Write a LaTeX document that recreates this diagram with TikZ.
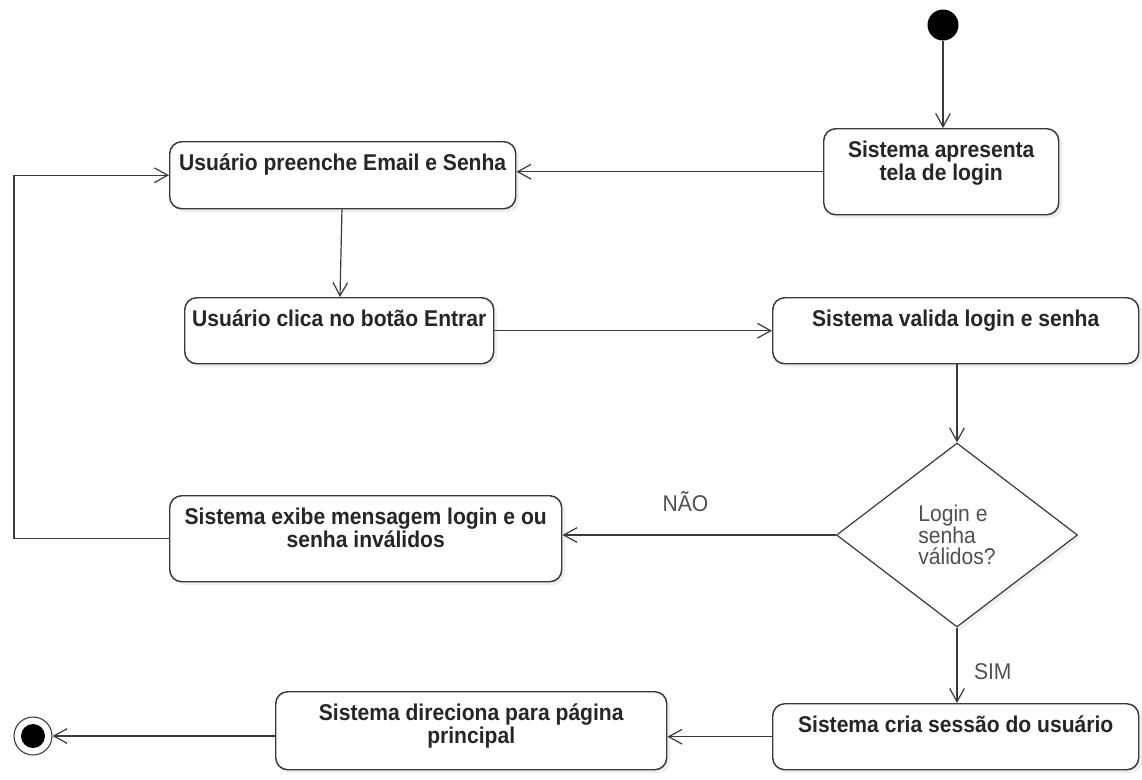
\documentclass[tikz,border=0pt]{standalone}
\usepackage{fontspec}
\setmainfont{Liberation Sans}[FakeStretch=0.925]
\usetikzlibrary{arrows.meta,positioning,shapes.geometric,shadows,calc}

\definecolor{linha}{HTML}{3A3A3A}
\definecolor{texto}{HTML}{262626}
\definecolor{cinza}{HTML}{505050}

% text of an action box: fixed size, lines from the top
\newcommand{\caixa}[3]{\parbox[c][#2][t]{#1}{\centering\rule{0pt}{21.75pt}#3}}

\begin{document}
\begin{tikzpicture}[x=0.75pt, y=-0.75pt,
    acao/.style={draw=linha, line width=1.1pt, rounded corners=9pt, fill=white,
        inner sep=0pt, anchor=north west, text=texto,
        font=\fontsize{17.1}{15.75}\selectfont\bfseries,
        drop shadow={shadow xshift=2.5pt, shadow yshift=-2.5pt, opacity=0.12}},
    decisao/.style={diamond, draw=linha, line width=0.9pt, fill=white,
        minimum width=180.75pt, minimum height=138pt, align=left, text=cinza,
        font=\fontsize{17.1}{15.75}\selectfont,
        drop shadow={shadow xshift=2.5pt, shadow yshift=-2.5pt, opacity=0.12}},
    inicio/.style={circle, fill=black, minimum size=23.25pt, inner sep=0pt},
    fim/.style={circle, draw=linha, line width=0.8pt, fill=white, minimum size=28.5pt,
        inner sep=0pt, path picture={\fill[black] (path picture bounding box.center) circle (9pt);}},
    seta/.style={draw=linha, line width=0.9pt,
        -{Straight Barb[length=10pt, width=11pt, line width=0.9pt]}},
    rotulo/.style={text=cinza, font=\fontsize{17.1}{15.75}\selectfont}]

    % page
    \useasboundingbox[fill=white] (0,0) rectangle (1142,779);

    % start and end
    \node[inicio] (inicio) at (943,25) {};
    \node[fim] (fim) at (33,736) {};

    % actions
    \node[acao] (apresenta) at (823,128) {\caixa{176.25pt}{64.5pt}{Sistema apresenta\\tela de login}};
    \node[acao] (preenche) at (169,141) {\caixa{259.5pt}{50.25pt}{Usuário preenche Email e Senha}};
    \node[acao] (clica) at (184,297) {\caixa{231.75pt}{49.5pt}{Usuário clica no botão Entrar}};
    \node[acao] (valida) at (772,297) {\caixa{274.5pt}{49.5pt}{Sistema valida login e senha}};
    \node[acao] (exibe) at (169,495) {\caixa{294pt}{64.5pt}{Sistema exibe mensagem login e ou\\senha inválidos}};
    \node[acao] (cria) at (772,703) {\caixa{274.5pt}{49.5pt}{Sistema cria sessão do usuário}};
    \node[acao] (direciona) at (275,691) {\caixa{293.25pt}{58.5pt}{Sistema direciona para página\\principal}};

    % decision
    \node[decisao] (valido) at (957,535) {Login e\\senha\\válidos?};

    % flow
    \draw[seta] (inicio) -- (inicio |- apresenta.north);
    \draw[seta] (apresenta.west) -- (apresenta.west -| preenche.east);
    \draw[seta] (preenche) -- (clica);
    \draw[seta] (clica) -- (valida);
    \draw[seta] (valido.north |- valida.south) -- (valido.north);
    \draw[seta] (valido.west) -- (valido.west -| exibe.east)
        node[rotulo, pos=0.55, yshift=24.75pt] (nao) {NÃO};
    \coordinate (volta) at (14,350);
    \draw[seta] (exibe.west) -| (volta) |- (preenche.west);
    \draw[seta] (valido.south) -- (valido.south |- cria.north)
        node[rotulo, pos=0.59, right=9pt] (sim) {SIM};
    \draw[seta] (cria.west) -- (cria.west -| direciona.east);
    \draw[seta] (fim -| direciona.west) -- (fim);
\end{tikzpicture}
\end{document}
